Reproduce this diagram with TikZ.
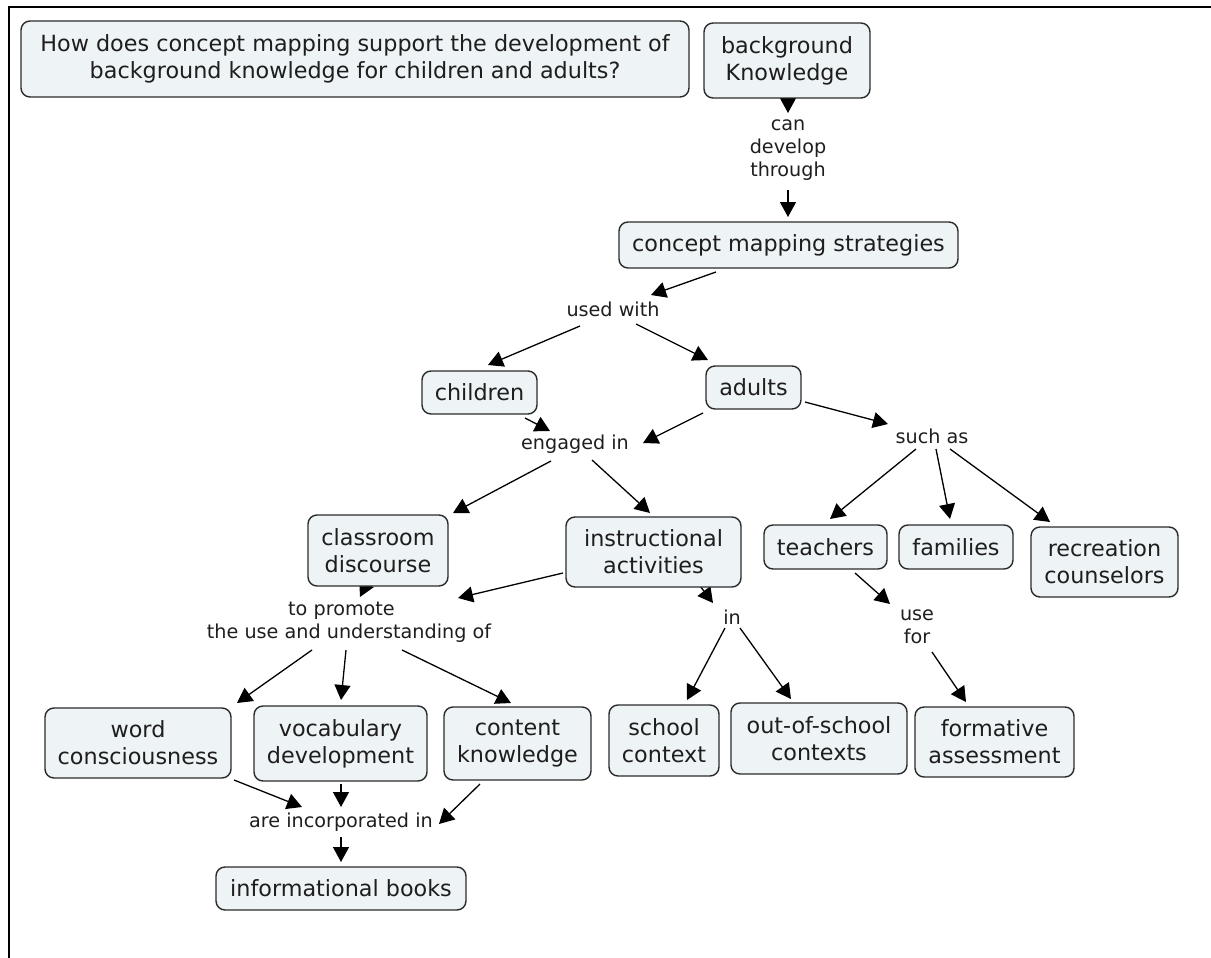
\documentclass[tikz,border=0pt]{standalone}
\usepackage{fontspec}
\setmainfont{DejaVu Sans}
\usetikzlibrary{arrows.meta}
\pgfdeclarelayer{bg}
\pgfsetlayers{bg,main}
\definecolor{cfill}{HTML}{EEF3F6}
\definecolor{cline}{HTML}{2B2B2B}
\definecolor{ctext}{HTML}{1E1E1E}
\newcommand\cnx[4]{\draw[arr] ([shift={(#2)}]#1.center) -- ([shift={(#4)}]#3.center);}
\begin{document}
\begin{tikzpicture}[x=1pt,y=-1pt,
  concept/.style={draw=cline, fill=cfill, rounded corners=9pt, line width=1.4pt, inner sep=0pt, align=center, text=ctext, font=\fontsize{22.3}{27}\selectfont},
  linkp/.style={inner sep=0pt, align=center, text=ctext, font=\fontsize{19.2}{23}\selectfont},
  arr/.style={draw=black, line width=1.3pt, -{Triangle[length=15pt,width=16pt]}}]
\useasboundingbox (0,0) rectangle (1211,958);
\draw[line width=2.6pt, line join=miter] (9,958) -- (9,7) -- (1211,7);

\node[concept, minimum width=668pt, minimum height=76pt] (q) at (355,59) {How does concept mapping support the development of\\background knowledge for children and adults?};
\node[concept, minimum width=166pt, minimum height=75pt] (bk) at (787,60.5) {background\\Knowledge};
\node[linkp] (l1) at (788,150) {can\\develop\\through};
\node[concept, minimum width=339pt, minimum height=46pt] (cms) at (788.5,245) {concept mapping strategies};
\node[linkp] (l2) at (613,309) {used with};
\node[concept, minimum width=115pt, minimum height=43pt] (ch) at (479.5,392.5) {children};
\node[concept, minimum width=95pt, minimum height=43pt] (ad) at (753.5,387.5) {adults};
\node[linkp] (l3) at (575,444) {engaged in};
\node[linkp] (l4) at (932,436) {such as};
\node[concept, minimum width=140pt, minimum height=71pt] (cd) at (378,550.5) {classroom\\discourse};
\node[concept, minimum width=175pt, minimum height=70pt] (ia) at (653.5,552) {instructional\\activities};
\node[concept, minimum width=123pt, minimum height=44pt] (te) at (825.5,547) {teachers};
\node[concept, minimum width=114pt, minimum height=44pt] (fa) at (956,547) {families};
\node[concept, minimum width=147pt, minimum height=70pt] (rc) at (1104.5,562) {recreation\\counselors};
\node[linkp] (l5) at (349,622) {to promote\hspace*{15pt}\\the use and understanding of};
\node[linkp] (l6) at (732,617) {in};
\node[linkp] (l7) at (917,627) {use\\for};
\node[concept, minimum width=186pt, minimum height=70pt] (wc) at (138,743) {word\\consciousness};
\node[concept, minimum width=173pt, minimum height=75pt] (vd) at (340.5,743.5) {vocabulary\\development};
\node[concept, minimum width=147pt, minimum height=73pt] (ck) at (517.5,743.5) {content\\knowledge};
\node[concept, minimum width=110pt, minimum height=71pt] (sc) at (664,740.5) {school\\context};
\node[concept, minimum width=176pt, minimum height=71pt] (os) at (819,738.5) {out-of-school\\contexts};
\node[concept, minimum width=159pt, minimum height=70pt] (fo) at (994.5,742) {formative\\assessment};
\node[linkp] (l8) at (341,822) {are incorporated in};
\node[concept, minimum width=250pt, minimum height=43pt] (ib) at (341,888.5) {informational books};

\begin{pgfonlayer}{bg}
\cnx{bk}{1,36}{l1}{0,-37}
\cnx{l1}{0,40}{cms}{-0.5,-28}
\cnx{cms}{-72.5,27}{l2}{38,-14}
\cnx{l2}{-33,17}{ch}{8.5,-27.5}
\cnx{l2}{23,15}{ad}{-45.5,-27.5}
\cnx{ch}{45.5,25.5}{l3}{-25,-13}
\cnx{ad}{-50.5,25.5}{l3}{68,-1}
\cnx{l3}{-24,17}{cd}{75,-37.5}
\cnx{l3}{17,16}{ia}{-3.5,-39}
\cnx{ad}{51.5,14.5}{l4}{-44,-12}
\cnx{l4}{-16,13}{te}{4.5,-28}
\cnx{l4}{4,13}{fa}{-6,-28}
\cnx{l4}{18,13}{rc}{-54.5,-40}
\cnx{cd}{-10,30}{l5}{11,-25}
\cnx{ia}{-90.5,21}{l5}{109,-24}
\cnx{ia}{43.5,30}{l6}{-19,-14}
\cnx{l6}{-7,11}{sc}{23,-40.5}
\cnx{l6}{8,11}{os}{-28,-39.5}
\cnx{te}{29.5,26}{l7}{-27,-23}
\cnx{l7}{15,25}{fo}{-28.5,-40}
\cnx{l5}{-37,28}{wc}{99,-40}
\cnx{l5}{-3,28}{vd}{0.5,-43.5}
\cnx{l5}{53,28}{ck}{-6.5,-40.5}
\cnx{wc}{96,37}{l8}{-39,-15}
\cnx{vd}{0.5,40.5}{l8}{0,-15}
\cnx{ck}{-37.5,40.5}{l8}{98,2}
\cnx{l8}{0,15}{ib}{0,-26.5}
\end{pgfonlayer}
\end{tikzpicture}
\end{document}
